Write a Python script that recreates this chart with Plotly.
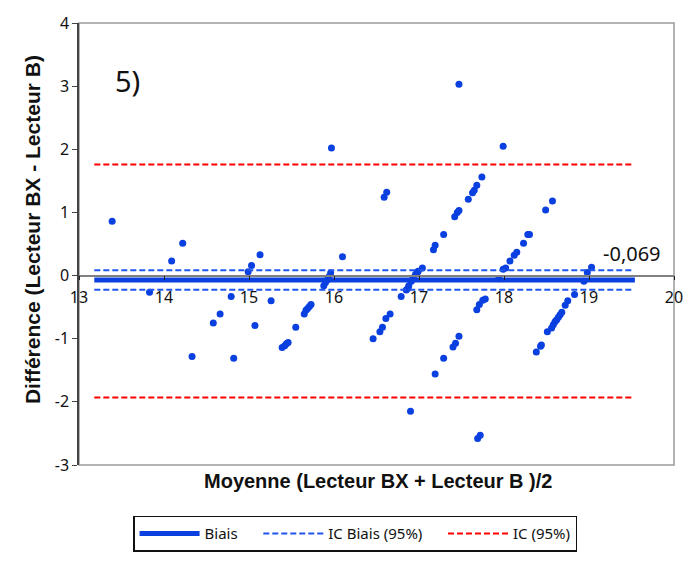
import plotly.graph_objects as go

# Data: mean (x) and difference (y)
mean_vals = [13.39, 13.83, 14.09, 14.22, 14.33, 14.58, 14.66, 14.79, 14.82, 14.99,
             15.03, 15.07, 15.13, 15.26, 15.39, 15.42, 15.44, 15.46, 15.55,
             15.65, 15.67, 15.69, 15.71, 15.73, 15.88, 15.90, 15.92, 15.94, 15.96,
             15.97, 16.10, 16.59, 16.62, 16.46, 16.54, 16.57, 16.61, 16.66, 16.79,
             16.85, 16.87, 16.88, 16.91, 16.93, 16.96, 16.98, 16.99, 17.04, 16.90,
             17.17, 17.19, 17.29, 17.42, 17.45, 17.47, 17.58, 17.63, 17.65, 17.68,
             17.74, 17.47, 17.99, 17.19, 17.29, 17.40, 17.43, 17.47, 17.69, 17.72,
             17.68, 17.71, 17.75, 17.78, 17.94, 17.99, 18.02, 18.07, 18.12, 18.15,
             18.23, 18.28, 18.30, 18.49, 18.57, 18.94, 18.98, 19.03, 18.38, 18.43,
             18.44, 18.51, 18.56, 18.58, 18.60, 18.62, 18.64, 18.66, 18.68, 18.72,
             18.75, 18.83]
diff_vals = [0.86, -0.265, 0.23, 0.51, -1.28, -0.75, -0.61, -0.33, -1.31, 0.06,
             0.16, -0.79, 0.33, -0.40, -1.14, -1.11, -1.08, -1.06, -0.82,
             -0.61, -0.55, -0.52, -0.49, -0.46, -0.16, -0.11, -0.07, -0.02, 0.04,
             2.02, 0.30, 1.24, 1.32, -1.00, -0.89, -0.82, -0.68, -0.61, -0.33,
             -0.23, -0.20, -0.16, -0.09, -0.04, 0.02, 0.05, 0.07, 0.12, -2.15,
             0.41, 0.48, 0.65, 0.93, 1.00, 1.03, 1.21, 1.31, 1.35, 1.43,
             1.56, 3.03, 2.05, -1.56, -1.31, -1.13, -1.07, -0.96, -2.58, -2.53,
             -0.54, -0.46, -0.39, -0.37, -0.05, 0.10, 0.12, 0.23, 0.32, 0.37,
             0.51, 0.65, 0.65, 1.04, 1.18, -0.09, 0.05, 0.13, -1.21, -1.12,
             -1.10, -0.89, -0.83, -0.78, -0.73, -0.70, -0.66, -0.62, -0.58, -0.47,
             -0.40, -0.30]

bias = -0.069
ic_bias = [0.085, -0.223]
ic = [1.76, -1.93]
line_x = [13.18, 19.5]
bias_x = [13.18, 19.54]
bias_label = "-0,069"
panel_label = "5)"
x_ticks = [13, 14, 15, 16, 17, 18, 19, 20]
y_ticks = [-3, -2, -1, 0, 1, 2, 3, 4]
y_tick_labels = ["-3", "-2", "-1", "0", "1", "2", "3", "4"]

BLUE = "#0a3fe0"
fig = go.Figure()

fig.add_trace(go.Scatter(x=mean_vals, y=diff_vals, mode="markers",
                         marker=dict(color=BLUE, size=7), showlegend=False,
                         hoverinfo="x+y"))

fig.add_trace(go.Scatter(x=bias_x, y=[bias, bias], mode="lines",
                         name="Biais" + "\u00a0" * 4,
                         line=dict(color=BLUE, width=5)))
fig.add_trace(go.Scatter(x=[line_x[0], line_x[1], None, line_x[0], line_x[1]],
                         y=[ic_bias[0], ic_bias[0], None, ic_bias[1], ic_bias[1]],
                         mode="lines", name="IC Biais (95%)" + "\u00a0" * 4,
                         line=dict(color="#1f55ee", width=2, dash="6px,3px")))
fig.add_trace(go.Scatter(x=[line_x[0], line_x[1], None, line_x[0], line_x[1]],
                         y=[ic[0], ic[0], None, ic[1], ic[1]],
                         mode="lines", name="IC (95%)",
                         line=dict(color="#ff0000", width=2, dash="6px,3px")))

fig.add_annotation(x=19.5, y=bias, yshift=26, text=bias_label, showarrow=False,
                   font=dict(family="Noto Sans", size=20, color="#111111"))
fig.add_annotation(xref="paper", yref="paper", x=0.081, y=0.871, text=panel_label,
                   xanchor="center", yanchor="middle",
                   showarrow=False, font=dict(family="Noto Sans", size=29, color="#111111"))
fig.add_annotation(xref="paper", yref="paper", x=0.503, y=-0.036,
                   xanchor="center", yanchor="middle",
                   text="<b>Moyenne (Lecteur BX + Lecteur B )/2</b>", showarrow=False,
                   font=dict(family="Liberation Sans", size=20, color="#111111"))
fig.add_annotation(xref="paper", yref="paper", x=-0.077, y=0.532, textangle=-90,
                   xanchor="center", yanchor="middle",
                   text="<b>Différence (Lecteur BX - Lecteur B)</b>", showarrow=False,
                   font=dict(family="Liberation Sans", size=21, color="#111111"))

# plot area border
fig.add_shape(type="rect", xref="paper", yref="paper", x0=0, y0=0, x1=1, y1=1,
              line=dict(color="#9a9a9a", width=1.5), layer="below")

fig.update_layout(
    width=690, height=561,
    margin=dict(l=71, r=24, t=15, b=104, autoexpand=False),
    paper_bgcolor="white", plot_bgcolor="white",
    font=dict(family="Noto Sans", size=16, color="#111111"),
    xaxis=dict(range=[13, 20], tickvals=x_ticks, anchor="free", position=3/7,
               showgrid=False, zeroline=False, showline=True, linecolor="#808080",
               linewidth=1.5, ticks="outside", ticklen=4, tickcolor="#222222",
               ticklabelstandoff=3, automargin=False,
               tickfont=dict(size=16, family="Noto Sans")),
    yaxis=dict(range=[-3, 4], tickvals=y_ticks, ticktext=y_tick_labels,
               showgrid=False, zeroline=False, automargin=False,
               showline=True, linecolor="#444444", linewidth=1.5, ticks="outside",
               ticklen=5, tickcolor="#444444",
               tickfont=dict(size=16, family="Noto Sans")),
    legend=dict(orientation="h", x=0.464, xanchor="center", y=-0.115, yanchor="top",
                bordercolor="#111111", borderwidth=1.5,
                font=dict(family="Noto Sans", size=15, color="#111111"),
                itemwidth=60, tracegroupgap=0),
    showlegend=True,
)

fig.write_html("out.html")
